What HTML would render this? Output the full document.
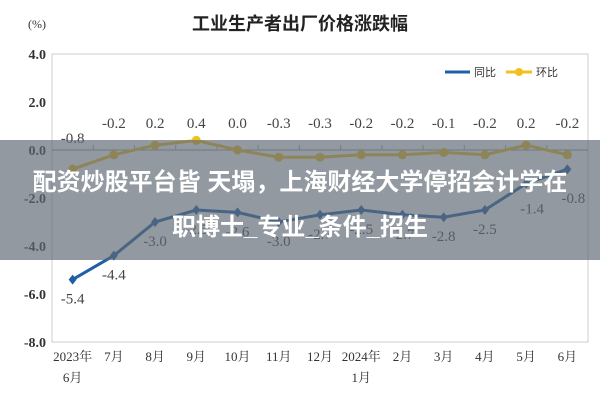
<!DOCTYPE html>
<html><head><meta charset="utf-8"><style>
body{margin:0;background:#fff;}
#wrap{position:relative;width:600px;height:400px;overflow:hidden;font-family:"Liberation Serif","Noto Serif CJK SC",serif;}
#overlay{position:absolute;left:0;top:140px;width:600px;height:120px;background:rgba(95,105,115,0.68);}
#ovtext{position:absolute;left:0;top:160px;width:600px;text-align:center;color:#fff;font:bold 24px/45px "Liberation Sans","Noto Sans CJK SC",sans-serif;}
</style></head><body>
<div id="wrap">
<svg id="svg" width="600" height="400"></svg>
<div id="overlay"></div>
<div id="ovtext">配资炒股平台皆 天塌，上海财经大学停招会计学在<br>职博士_专业_条件_招生</div>
</div>
<script>
const categories=["2023年|6月","7月","8月","9月","10月","11月","12月","2024年|1月","2月","3月","4月","5月","6月"];
const yoy=[-5.4,-4.4,-3.0,-2.5,-2.6,-3.0,-2.7,-2.5,-2.7,-2.8,-2.5,-1.4,-0.8];
const mom=[-0.8,-0.2,0.2,0.4,0.0,-0.3,-0.3,-0.2,-0.2,-0.1,-0.2,0.2,-0.2];
const yTicks=[4,2,0,-2,-4,-6,-8];
const L=52,R=588,T=54,B=342,yMax=4,yMin=-8;
const svg=document.getElementById('svg');const NS='http://www.w3.org/2000/svg';
const bw=(R-L)/categories.length;
function xs(i){return L+bw*(i+0.5);}
function ys(v){return T+(yMax-v)/(yMax-yMin)*(B-T);}
function mk(tag,at,txt){const e=document.createElementNS(NS,tag);for(const k in at)e.setAttribute(k,at[k]);if(txt!=null)e.textContent=txt;svg.appendChild(e);return e;}
let e;
e=mk('text',{x:300,y:30,'text-anchor':'middle','font-size':18,'font-weight':'bold',fill:'#222','font-family':'Liberation Sans,Noto Sans CJK SC,sans-serif'},'工业生产者出厂价格涨跌幅');


e=mk('text',{x:28,y:28,'font-size':12,fill:'#333'},'(%)');


e=mk('rect',{x:L,y:T,width:R-L,height:B-T,fill:'none',stroke:'#ccc'});


e=mk('line',{x1:L,x2:R,y1:ys(0),y2:ys(0),stroke:'#999'});


yTicks.forEach(v=>{e=mk('text',{x:46,y:ys(v)+5,'text-anchor':'end','font-size':14,'font-weight':'bold',fill:'#333'},v.toFixed(1));

});
categories.forEach((c,i)=>{const p=c.split('|');p.forEach((s,j)=>{e=mk('text',{x:xs(i),y:361+j*21,'text-anchor':'middle','font-size':13,fill:'#333'},s);

});
if(i>0){e=mk('line',{x1:L+bw*i,x2:L+bw*i,y1:ys(0)-5,y2:ys(0),stroke:'#aaa'});

}});
function series(arr,color,name,marker){
 e=mk('polyline',{points:arr.map((v,i)=>xs(i)+','+ys(v)).join(' '),fill:'none',stroke:color,'stroke-width':3});
 
 
 arr.forEach((v,i)=>{if(marker==='d'){e=mk('path',{d:`M${xs(i)},${ys(v)-5}l4,5l-4,5l-4,-5z`,fill:color});}else{e=mk('circle',{cx:xs(i),cy:ys(v),r:4.5,fill:color});}
 
 });
}
series(mom,'#f0c020','mom','c');
series(yoy,'#1f5fa8','yoy','d');
mom.forEach((v,i)=>{e=mk('text',{x:xs(i),y:i===0?143:128,'text-anchor':'middle','font-size':15,fill:'#444'},v.toFixed(1));

});
yoy.forEach((v,i)=>{let y=ys(v)+24;if(i===11)y=ys(v)+30;if(i===12)y=ys(v)+34;e=mk('text',{x:xs(i)+(i>=11?6:0),y:y,'text-anchor':'middle','font-size':15,fill:'#444'},v.toFixed(1));

});
e=mk('line',{x1:445,x2:470,y1:72,y2:72,stroke:'#1f5fa8','stroke-width':3});


e=mk('text',{x:474,y:76,'font-size':11,fill:'#333','font-family':'Liberation Sans,Noto Sans CJK SC,sans-serif'},'同比');


e=mk('line',{x1:506,x2:532,y1:72,y2:72,stroke:'#f0c020','stroke-width':3});


e=mk('circle',{cx:519,cy:72,r:4,fill:'#f0c020'});


e=mk('text',{x:536,y:76,'font-size':11,fill:'#333','font-family':'Liberation Sans,Noto Sans CJK SC,sans-serif'},'环比');


</script>
</body></html>
